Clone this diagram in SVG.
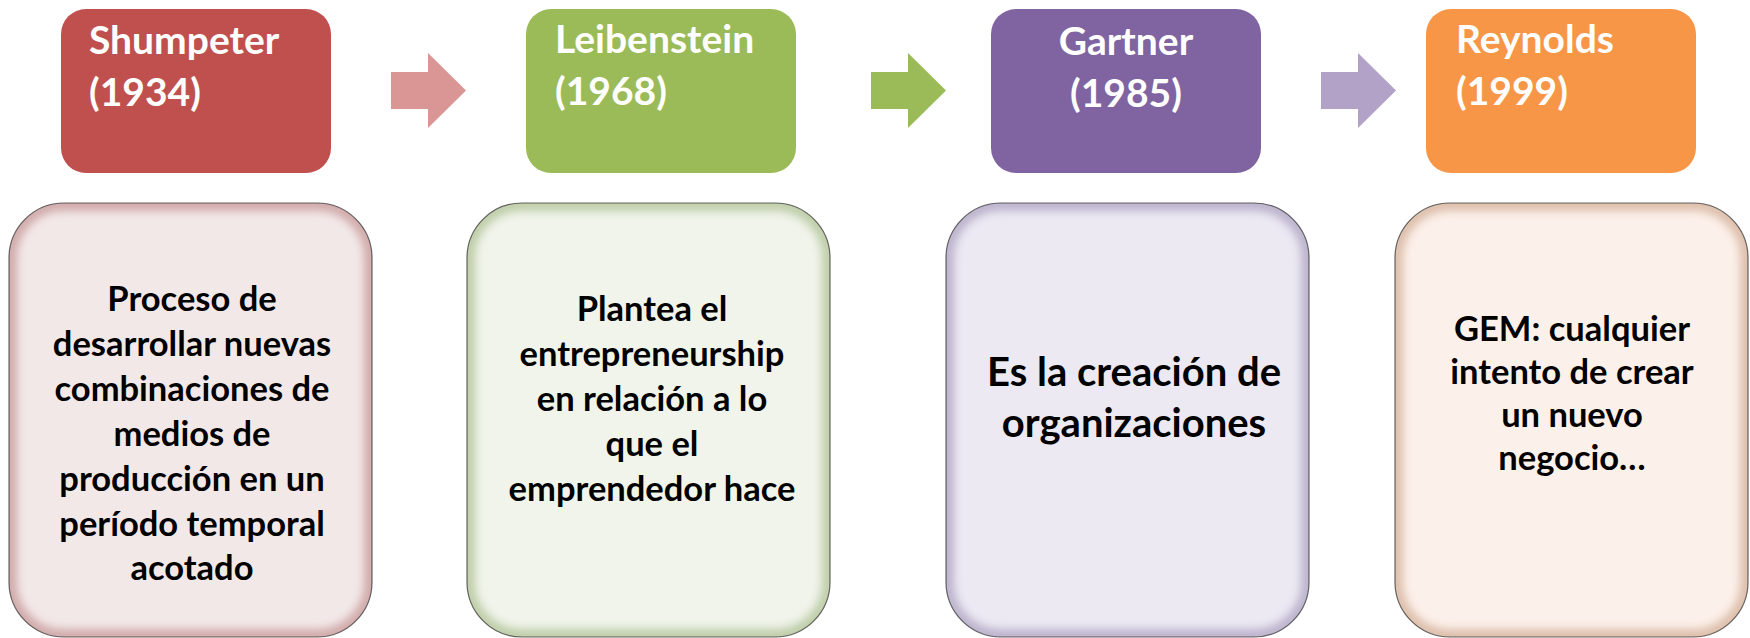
<svg xmlns="http://www.w3.org/2000/svg" width="1750" height="638" viewBox="0 0 1750 638">
<style>
.hdr{font-family:Lato,"Open Sans","Liberation Sans",sans-serif;font-weight:bold;font-size:39px;fill:#ffffff}
.body{font-family:Lato,"Open Sans","Liberation Sans",sans-serif;font-weight:bold;font-size:34.5px;fill:#000000;text-anchor:middle}
.big{font-size:40px}
.outline{fill:none;stroke:#2a2a2a;stroke-opacity:0.7;stroke-width:1.2}
.glow{fill:none;stroke-width:16;filter:url(#soft);opacity:0.5}
</style>
<defs>
<filter id="soft" x="-10%" y="-10%" width="120%" height="120%"><feGaussianBlur stdDeviation="4"/></filter>
<clipPath id="c1"><rect x="9" y="203" width="363" height="434" rx="55"/></clipPath>
<clipPath id="c2"><rect x="467" y="203" width="363" height="434" rx="55"/></clipPath>
<clipPath id="c3"><rect x="946" y="203" width="363" height="434" rx="55"/></clipPath>
<clipPath id="c4"><rect x="1395" y="203" width="353" height="434" rx="55"/></clipPath>
</defs>
<rect width="1750" height="638" fill="#ffffff"/>

<g id="connectors">
<polygon points="391,72 428,72 428,53 466,90.5 428,128 428,109 391,109" fill="#D99694"/>
<polygon points="871,72 908,72 908,53 946,90.5 908,128 908,109 871,109" fill="#9BBB59"/>
<polygon points="1321,72 1358,72 1358,53 1396,90.5 1358,128 1358,109 1321,109" fill="#B2A2C7"/>
</g>

<g id="shumpeter">
<rect x="61" y="9" width="270" height="164" rx="25" fill="#C0504D"/>
<text class="hdr" x="89" y="54">Shumpeter</text>
<text class="hdr" x="89" y="106">(1934)</text>
</g>
<g id="leibenstein">
<rect x="526" y="9" width="270" height="164" rx="25" fill="#9BBB59"/>
<text class="hdr" x="555" y="53">Leibenstein</text>
<text class="hdr" x="555" y="105">(1968)</text>
</g>
<g id="gartner">
<rect x="991" y="9" width="270" height="164" rx="25" fill="#8064A2"/>
<text class="hdr" x="1126" y="55" text-anchor="middle">Gartner</text>
<text class="hdr" x="1126" y="107" text-anchor="middle">(1985)</text>
</g>
<g id="reynolds">
<rect x="1426" y="9" width="270" height="164" rx="25" fill="#F79646"/>
<text class="hdr" x="1456" y="53">Reynolds</text>
<text class="hdr" x="1456" y="105">(1999)</text>
</g>

<g id="def-shumpeter">
<rect x="9" y="203" width="363" height="434" rx="55" fill="#F3E8E8"/>
<rect x="9" y="203" width="363" height="434" rx="55" class="glow" stroke="#B07070" clip-path="url(#c1)"/>
<rect x="9" y="203" width="363" height="434" rx="55" class="outline"/>
<text class="body" x="192" y="311">Proceso de</text>
<text class="body" x="192" y="356">desarrollar nuevas</text>
<text class="body" x="192" y="401">combinaciones de</text>
<text class="body" x="192" y="446">medios de</text>
<text class="body" x="192" y="491">producción en un</text>
<text class="body" x="192" y="536">período temporal</text>
<text class="body" x="192" y="580">acotado</text>
</g>
<g id="def-leibenstein">
<rect x="467" y="203" width="363" height="434" rx="55" fill="#F0F4EA"/>
<rect x="467" y="203" width="363" height="434" rx="55" class="glow" stroke="#8FA86A" clip-path="url(#c2)"/>
<rect x="467" y="203" width="363" height="434" rx="55" class="outline"/>
<text class="body" x="652" y="321">Plantea el</text>
<text class="body" x="652" y="366">entrepreneurship</text>
<text class="body" x="652" y="411">en relación a lo</text>
<text class="body" x="652" y="456">que el</text>
<text class="body" x="652" y="501">emprendedor hace</text>
</g>
<g id="def-gartner">
<rect x="946" y="203" width="363" height="434" rx="55" fill="#ECE9F3"/>
<rect x="946" y="203" width="363" height="434" rx="55" class="glow" stroke="#8F80A8" clip-path="url(#c3)"/>
<rect x="946" y="203" width="363" height="434" rx="55" class="outline"/>
<text class="body big" x="1134" y="386">Es la creación de</text>
<text class="body big" x="1134" y="437">organizaciones</text>
</g>
<g id="def-reynolds">
<rect x="1395" y="203" width="353" height="434" rx="55" fill="#FCF0EA"/>
<rect x="1395" y="203" width="353" height="434" rx="55" class="glow" stroke="#C09070" clip-path="url(#c4)"/>
<rect x="1395" y="203" width="353" height="434" rx="55" class="outline"/>
<text class="body" x="1572" y="341">GEM: cualquier</text>
<text class="body" x="1572" y="384">intento de crear</text>
<text class="body" x="1572" y="427">un nuevo</text>
<text class="body" x="1572" y="470">negocio…</text>
</g>
</svg>
